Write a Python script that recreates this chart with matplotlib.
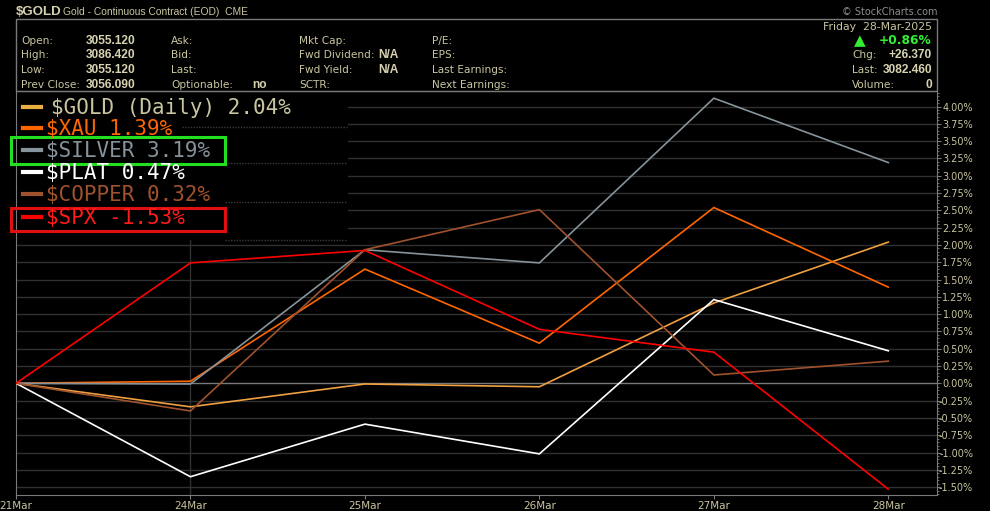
import numpy as np
import matplotlib
matplotlib.use("Agg")
import matplotlib.pyplot as plt
from matplotlib.patches import Rectangle
from matplotlib.ticker import MultipleLocator, FuncFormatter

W, H = 990, 511

dates = ["21Mar", "24Mar", "25Mar", "26Mar", "27Mar", "28Mar"]
gold = [0.0, -0.34, -0.01, -0.05, 1.16, 2.04]
xau = [0.0, 0.03, 1.65, 0.58, 2.54, 1.39]
silver = [0.0, -0.01, 1.93, 1.74, 4.12, 3.19]
plat = [0.0, -1.35, -0.59, -1.02, 1.21, 0.47]
copper = [0.0, -0.40, 1.93, 2.51, 0.12, 0.32]
spx = [0.0, 1.74, 1.92, 0.78, 0.45, -1.53]

legend_labels = ["$GOLD (Daily) 2.04%", "$XAU 1.39%", "$SILVER 3.19%",
                 "$PLAT 0.47%", "$COPPER 0.32%", "$SPX -1.53%"]

header_rows = [
    ("Open:", "3055.120", "Ask:", "", "Mkt Cap:", "", "P/E:"),
    ("High:", "3086.420", "Bid:", "", "Fwd Dividend:", "N/A", "EPS:"),
    ("Low:", "3055.120", "Last:", "", "Fwd Yield:", "N/A", "Last Earnings:"),
    ("Prev Close:", "3056.090", "Optionable:", "no", "SCTR:", "", "Next Earnings:"),
]
right_rows = [("Chg:", "+26.370"), ("Last:", "3082.460"), ("Volume:", "0")]

TAN = "#c9c5a0"
TAN_B = "#d6d2b0"
FRAME = "#7a7a7a"
GRID = "#303030"

series = [gold, xau, silver, plat, copper, spx]
colors = ["#f0a040", "#ff6600", "#86939b", "#ffffff", "#a0522d", "#ff0000"]
marker_colors = ["#e8b040", "#ff6600", "#86939b", "#ffffff", "#a0522d", "#ff0000"]
text_colors = [TAN, "#ff6600", "#86939b", "#ffffff", "#a0522d", "#ff1a1a"]


def px(x, y):
    return x / W, 1 - y / H


fig = plt.figure(figsize=(W / 100, H / 100), dpi=100, facecolor="black")

# plot area in pixels: x 16..937, y 91..495
left, right, top, bottom = 16, 937, 91, 495
ax = fig.add_axes([left / W, 1 - bottom / H, (right - left) / W, (bottom - top) / H])
ax.set_facecolor("black")

step = 174.46
zero_y, per_pct = 383.3, 69.2
ax.set_xlim(0, (right - left) / step)
ax.set_ylim((zero_y - bottom) / per_pct, (zero_y - top) / per_pct)

x = np.arange(len(dates))
for vals, c in zip(series, colors):
    ax.plot(x, vals, color=c, lw=1.2, zorder=4, solid_joinstyle="miter")

# grid
for v in np.arange(-1.5, 4.01, 0.25):
    ax.axhline(v, color=FRAME if abs(v) < 1e-9 else GRID, lw=1.0, zorder=1)
ax.axvline(1, color=GRID, lw=1.0, zorder=1)

# black legend panel hiding the grid
ax.add_patch(Rectangle(px(left + 1, 92), (347 - left) / W, -(148) / H,
                       transform=fig.transFigure, facecolor="black",
                       edgecolor="none", zorder=2))
for yy, x0 in [(127, 182), (163, 225), (202, 225), (240, 225)]:
    ax.plot([x0 / W, 347 / W], [1 - yy / H] * 2, transform=fig.transFigure,
            color="#3a3a3a", lw=1.0, ls=(0, (1, 1)), zorder=3)

for s in ax.spines.values():
    s.set_color(FRAME)
ax.set_xticks(x)
ax.set_xticklabels(dates)
ax.tick_params(axis="x", colors=FRAME, labelcolor=TAN, labelsize=7.5, length=3, pad=1)
ax.yaxis.tick_right()
ax.yaxis.set_major_locator(MultipleLocator(0.25))
ax.yaxis.set_minor_locator(MultipleLocator(0.05))
ax.yaxis.set_major_formatter(FuncFormatter(lambda v, p: f"{v:.2f}%"))
ax.tick_params(axis="y", which="major", colors=FRAME, labelcolor=TAN,
               labelsize=7, length=3, pad=23)
ax.tick_params(axis="y", which="minor", colors=FRAME, length=1.5)
for lab in ax.get_yticklabels():
    lab.set_horizontalalignment("right")

# legend
row_y = [107, 128, 150, 172, 194, 217]
for lab, mc, tc, yy in zip(legend_labels, marker_colors, text_colors, row_y):
    fig.add_artist(plt.Line2D([23 / W, 41 / W], [1 - yy / H] * 2, color=mc, lw=3))
    tx = 51 if lab.startswith("$GOLD") else 46
    fig.text(*px(tx, yy + 1), lab, color=tc, fontsize=15, family="DejaVu Sans Mono",
             va="center", ha="left")

fig.add_artist(Rectangle(px(11, 231), 214 / W, 23 / H, transform=fig.transFigure,
                         fill=False, edgecolor="#e01010", lw=2.2))
fig.add_artist(Rectangle(px(11, 164), 214 / W, 27 / H, transform=fig.transFigure,
                         fill=False, edgecolor="#20e020", lw=2.2))

# header
fig.text(*px(16, 12), "$GOLD", color=TAN_B, fontsize=9.5, fontweight="bold",
         family="Liberation Sans", va="center")
fig.text(*px(63, 12), "Gold - Continuous Contract (EOD)  CME", color=TAN,
         fontsize=7.4, family="Liberation Sans", va="center")
fig.text(*px(937, 12), "© StockCharts.com", color="#8c8c8c", fontsize=7,
         ha="right", va="center")
fig.add_artist(Rectangle(px(16, 91), (937 - 16) / W, 72 / H, transform=fig.transFigure,
                         fill=False, edgecolor=FRAME, lw=1.0))

hy = [41, 55.5, 70, 84.5]
cols = [(21, False), (86, True), (171, False), (252, True), (299, False), (378, True), (432, False)]
for row, yy in zip(header_rows, hy):
    for txt, (cx, bold) in zip(row, cols):
        if not txt:
            continue
        if bold:
            fig.text(*px(cx, yy), txt, color=TAN_B, fontsize=8.6, fontweight="bold",
                     family="Liberation Sans", va="center")
        else:
            fig.text(*px(cx, yy), txt, color=TAN, fontsize=7.6, va="center")

fig.text(*px(932, 27), "Friday  28-Mar-2025", color=TAN, fontsize=7.8, ha="right", va="center")
fig.text(*px(860, 41), "▲", color="#33ee33", fontsize=11, ha="center", va="center")
fig.text(*px(932, 41), "+0.86%", color="#33ee33", fontsize=8.8, fontweight="bold",
         ha="right", va="center")
for (lab, val), yy in zip(right_rows, hy[1:]):
    fig.text(*px(852, yy), lab, color=TAN, fontsize=7.6, va="center")
    fig.text(*px(932, yy), val, color=TAN_B, fontsize=8.6, fontweight="bold",
             family="Liberation Sans", ha="right", va="center")

fig.savefig("out.png", dpi=100, facecolor="black")
